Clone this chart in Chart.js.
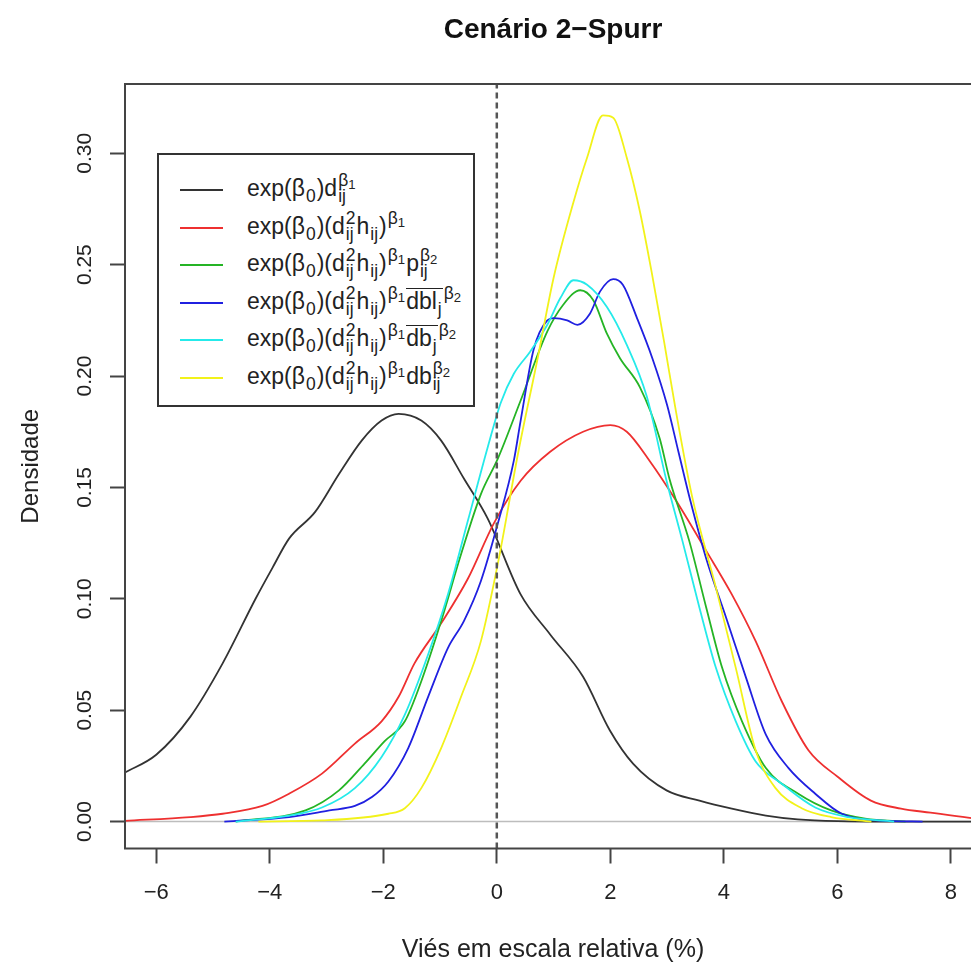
<!DOCTYPE html>
<html>
<head>
<meta charset="utf-8">
<script src="https://cdn.jsdelivr.net/npm/chart.js@4.4.1/dist/chart.umd.min.js"></script>
<style>
html, body { margin: 0; padding: 0; background: #fff; overflow: hidden; }
#wrap { position: relative; width: 985px; height: 969px; }
#legend {
  position: absolute; left: 157px; top: 153px; width: 318px; height: 254px;
  box-sizing: border-box; border: 2px solid #333; background: #fff;
  font-family: "Liberation Sans", Arial, sans-serif; font-size: 23px; color: #222;
}
.row { position: absolute; left: 0; right: 0; height: 38px; line-height: 38px; white-space: nowrap; }
.sw { position: absolute; left: 21px; width: 43px; height: 2px; top: 20px; }
.txt { position: absolute; left: 88px; top: 0; }
.st { display: inline-block; vertical-align: -6px; font-size: 0.76em; line-height: 0.92; margin: 0 1px; }
.st > span { display: block; }
.sb { font-size: 0.76em; vertical-align: -6px; line-height: 0; margin: 0 1px; }
.sp { font-size: 0.76em; vertical-align: 10px; line-height: 0; margin: 0 1px; }
.bi { font-size: 0.75em; vertical-align: -0.2em; line-height: 0; }
.ov { display: inline-block; border-top: 1.5px solid #222; line-height: 1.05; }
</style>
</head>
<body>
<div id="wrap">
  <canvas id="chart" width="985" height="969"></canvas>
  <div id="legend"></div>
</div>
<script>
// axis ranges and ticks
const xMin = -6.55, xMax = 8.53;
const yMin = -0.0121, yMax = 0.3311;
const xTicks = [-6, -4, -2, 0, 2, 4, 6, 8];
const yTicks = [0, 0.05, 0.10, 0.15, 0.20, 0.25, 0.30];

// density curves
const blackX = [-6.55, -6.0, -5.4, -4.83, -4.25, -3.95, -3.66, -3.2, -2.78, -2.38, -2.03, -1.73, -1.33, -0.98, -0.58, -0.16, 0.42, 0.94, 1.52, 1.99, 2.4, 2.99, 3.57, 4.14, 4.74, 5.3, 6.0, 7.0, 8.53];
const blackY = [0.022, 0.030, 0.047, 0.071, 0.100, 0.114, 0.127, 0.139, 0.156, 0.171, 0.180, 0.183, 0.180, 0.171, 0.154, 0.136, 0.102, 0.084, 0.065, 0.041, 0.026, 0.014, 0.0094, 0.0058, 0.0027, 0.001, 0.0002, 0, 0];

const redX = [-6.55, -5.4, -4.83, -4.13, -3.66, -3.08, -2.5, -2.03, -1.73, -1.45, -0.98, -0.51, -0.05, 0.42, 0.94, 1.52, 2.0, 2.29, 2.69, 3.16, 3.69, 4.14, 4.56, 5.02, 5.49, 6.01, 6.59, 7.12, 7.64, 8.3, 8.53];
const redY = [0.0003, 0.002, 0.0035, 0.007, 0.0125, 0.0215, 0.035, 0.045, 0.056, 0.071, 0.089, 0.109, 0.134, 0.153, 0.166, 0.175, 0.178, 0.175, 0.162, 0.144, 0.1215, 0.102, 0.081, 0.054, 0.032, 0.020, 0.0094, 0.0058, 0.004, 0.0018, 0.0012];

const greenX = [-4.6, -3.37, -2.78, -2.33, -1.98, -1.62, -1.33, -0.98, -0.63, -0.28, 0.02, 0.42, 0.89, 1.17, 1.47, 1.7, 1.94, 2.17, 2.52, 2.87, 3.04, 3.39, 3.69, 3.97, 4.32, 4.74, 5.31, 5.89, 6.49, 7.2];
const greenY = [0, 0.005, 0.014, 0.026, 0.036, 0.045, 0.063, 0.090, 0.120, 0.147, 0.163, 0.189, 0.220, 0.232, 0.2385, 0.234, 0.219, 0.208, 0.195, 0.172, 0.154, 0.126, 0.096, 0.069, 0.045, 0.024, 0.0125, 0.005, 0.0013, 0];

const blueX = [-4.8, -3.66, -2.95, -2.5, -2.2, -1.91, -1.56, -1.21, -0.86, -0.58, -0.28, 0.02, 0.3, 0.42, 0.65, 0.89, 1.0, 1.24, 1.42, 1.64, 1.82, 2.05, 2.22, 2.47, 2.74, 3.0, 3.2, 3.41, 3.69, 4.04, 4.39, 4.74, 5.14, 5.61, 6.07, 6.77, 7.5];
const blueY = [0, 0.002, 0.005, 0.007, 0.011, 0.018, 0.033, 0.056, 0.078, 0.090, 0.108, 0.134, 0.162, 0.180, 0.212, 0.225, 0.226, 0.225, 0.223, 0.228, 0.238, 0.2435, 0.241, 0.226, 0.208, 0.187, 0.166, 0.144, 0.118, 0.0915, 0.0646, 0.039, 0.024, 0.0125, 0.0036, 0.0004, 0];

const cyanX = [-4.6, -3.66, -3.08, -2.5, -2.03, -1.62, -1.21, -0.86, -0.51, -0.16, 0.07, 0.3, 0.59, 0.89, 1.12, 1.35, 1.59, 1.94, 2.29, 2.64, 2.99, 3.27, 3.57, 3.86, 4.21, 4.56, 5.02, 5.61, 6.19, 7.0];
const cyanY = [0, 0.0027, 0.0063, 0.015, 0.029, 0.048, 0.075, 0.102, 0.135, 0.168, 0.188, 0.201, 0.211, 0.223, 0.235, 0.243, 0.241, 0.231, 0.214, 0.191, 0.153, 0.126, 0.096, 0.069, 0.045, 0.027, 0.017, 0.0063, 0.002, 0];

const yellowX = [-4.2, -3.08, -1.91, -1.62, -1.33, -0.98, -0.63, -0.28, 0.02, 0.38, 0.72, 1.0, 1.35, 1.59, 1.87, 2.05, 2.29, 2.52, 2.74, 2.95, 3.15, 3.44, 3.86, 4.21, 4.56, 4.91, 5.37, 5.89, 6.6];
const yellowY = [0, 0.0005, 0.0035, 0.006, 0.015, 0.033, 0.056, 0.081, 0.116, 0.166, 0.208, 0.244, 0.278, 0.298, 0.317, 0.316, 0.298, 0.274, 0.245, 0.215, 0.185, 0.146, 0.105, 0.069, 0.032, 0.015, 0.006, 0.002, 0];

// reference lines
const zeroLineX = [xMin, xMax], zeroLineY = [0, 0];
const refLineX = [0, 0], refLineY = [yMin, yMax];

// legend text (R plotmath look with sub/superscripts)
const sub = t => `<span class="sb">${t}</span>`;
const sup = t => `<span class="sp">${t}</span>`;
const both = (up, dn) => `<span class="st"><span>${up}</span><span>${dn}</span></span>`;
const beta = n => `β<span class="bi">${n}</span>`;
const e0 = `exp(β${sub('0')})`;
const dh = `(d${both('2', 'ij')}h${sub('ij')})${sup(beta(1))}`;

const seriesLabels = [
  `${e0}d${both(beta(1), 'ij')}`,
  `${e0}${dh}`,
  `${e0}${dh}p${both(beta(2), 'ij')}`,
  `${e0}${dh}<span class="ov">dbl${sub('j')}</span>${sup(beta(2))}`,
  `${e0}${dh}<span class="ov">db${sub('j')}</span>${sup(beta(2))}`,
  `${e0}${dh}db${both(beta(2), 'ij')}`
];
const seriesColors = ['#333333', '#ee3030', '#25b425', '#2020e0', '#25eaea', '#f2f21a'];
const seriesX = [blackX, redX, greenX, blueX, cyanX, yellowX];
const seriesY = [blackY, redY, greenY, blueY, cyanY, yellowY];

const font = '"Liberation Sans", Arial, sans-serif';
const toPts = (xs, ys) => xs.map((x, i) => ({ x: x, y: ys[i] }));
const fmtX = v => (v < 0 ? '\u2212' + Math.abs(v) : String(v));

const datasets = [{
  data: toPts(zeroLineX, zeroLineY),
  borderColor: '#bdbdbd', borderWidth: 1.5, order: 20
}];
seriesX.forEach((xs, i) => {
  datasets.push({
    data: toPts(xs, seriesY[i]),
    borderColor: seriesColors[i],
    borderWidth: 1.8,
    cubicInterpolationMode: 'monotone',
    order: 10 - i
  });
});
datasets.push({
  data: toPts(refLineX, refLineY),
  borderColor: '#555', borderWidth: 2.5, borderDash: [6, 4], order: 0
});

// R style box around the plot region
const boxPlugin = {
  id: 'box',
  afterDatasetsDraw(chart) {
    const { ctx, chartArea: a } = chart;
    ctx.save();
    ctx.strokeStyle = '#444';
    ctx.lineWidth = 2;
    ctx.strokeRect(a.left, a.top, a.right - a.left, a.bottom - a.top);
    ctx.restore();
  }
};

new Chart(document.getElementById('chart').getContext('2d'), {
  type: 'line',
  data: { datasets: datasets },
  plugins: [boxPlugin],
  options: {
    responsive: false,
    animation: false,
    devicePixelRatio: 1,
    layout: { padding: { left: 0, right: 4, top: 0, bottom: 0 } },
    elements: { point: { radius: 0 } },
    plugins: {
      legend: { display: false },
      tooltip: { enabled: false },
      title: {
        display: true, text: 'Cenário 2\u2212Spurr', fullSize: false,
        font: { family: font, size: 28, weight: 'bold' }, color: '#111',
        padding: { top: 13, bottom: 37.4 }
      }
    },
    scales: {
      x: {
        type: 'linear', min: xMin, max: xMax,
        afterBuildTicks: s => { s.ticks = xTicks.map(v => ({ value: v })); },
        afterFit: s => { s.height = 120.5; },
        ticks: { autoSkip: false, maxRotation: 0, padding: 16, color: '#222', font: { family: font, size: 22 }, callback: v => fmtX(v) },
        grid: { drawOnChartArea: false, drawTicks: true, tickLength: 15, tickWidth: 2, tickColor: '#444' },
        border: { display: false },
        title: { display: true, text: 'Viés em escala relativa (%)', color: '#222', font: { family: font, size: 25 }, padding: { top: 0, bottom: 4 } }
      },
      y: {
        type: 'linear', min: yMin, max: yMax,
        afterBuildTicks: s => { s.ticks = yTicks.map(v => ({ value: v })); },
        afterFit: s => { s.width = 125; },
        ticks: { autoSkip: false, minRotation: 90, maxRotation: 90, crossAlign: 'center', padding: 4, color: '#222', font: { family: font, size: 21 }, callback: v => v.toFixed(2) },
        grid: { drawOnChartArea: false, drawTicks: true, tickLength: 15, tickWidth: 2, tickColor: '#444' },
        border: { display: false },
        title: { display: true, text: 'Densidade', color: '#222', font: { family: font, size: 24 }, padding: { top: 16.6, bottom: 0 } }
      }
    }
  }
});

// HTML legend (keeps sub/superscripts as real text)
const legend = document.getElementById('legend');
seriesLabels.forEach((lab, i) => {
  const row = document.createElement('div');
  row.className = 'row';
  row.style.top = (14 + 37.6 * i) + 'px';
  row.innerHTML = `<div class="sw" style="background:${seriesColors[i]}"></div><span class="txt">${lab}</span>`;
  legend.appendChild(row);
});
</script>
</body>
</html>
